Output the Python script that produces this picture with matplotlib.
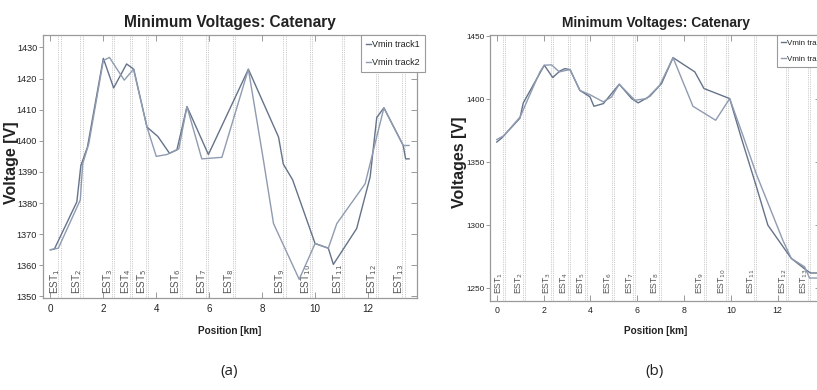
import matplotlib
matplotlib.use("Agg")
import matplotlib.pyplot as plt
import matplotlib.transforms as mtransforms

# ---------------- data ----------------
est_labels = [r"EST$_{%d}$" % i for i in range(1, 14)]

# panel (a)
a_stations_km = [0.3, 1.13, 2.33, 3.0, 3.6, 4.9, 5.88, 6.9, 8.8, 9.8, 11.0, 12.3, 13.3]
a_track1_km = [0.0, 0.15, 1.0, 1.15, 1.4, 2.0, 2.39, 2.88, 3.15, 3.65, 4.06, 4.5, 4.78,
               5.16, 5.97, 7.48, 8.62, 8.8, 9.15, 10.0, 10.5, 10.69, 11.57, 12.08, 12.33,
               12.6, 13.33, 13.42, 13.55]
a_track1_v = [1365, 1365.2, 1380.4, 1392.0, 1398.0, 1426.5, 1417.0, 1424.7, 1423.0,
              1404.4, 1401.4, 1396.0, 1397.1, 1411.0, 1395.6, 1423.0, 1401.2, 1392.5,
              1387.5, 1367.0, 1365.5, 1360.3, 1371.8, 1388.4, 1407.5, 1410.6, 1398.5,
              1394.2, 1394.2]
a_track2_km = [0.0, 0.3, 1.13, 1.22, 1.45, 2.0, 2.23, 2.79, 3.14, 3.65, 4.0, 4.4, 4.85,
               5.16, 5.72, 6.48, 7.48, 8.05, 8.43, 9.4, 10.0, 10.5, 10.82, 11.89, 12.6,
               13.33, 13.55]
a_track2_v = [1365, 1365.5, 1381.0, 1392.6, 1399.0, 1425.8, 1426.8, 1419.5, 1423.0,
              1404.4, 1395.0, 1395.6, 1397.4, 1411.0, 1394.2, 1394.7, 1423.0, 1393.7,
              1373.4, 1355.5, 1367.0, 1365.5, 1373.4, 1386.2, 1410.6, 1398.5, 1398.5]
a_yticks = [1350, 1360, 1370, 1380, 1390, 1400, 1410, 1420, 1430]

# panel (b)
b_stations_km = [0.27, 1.13, 2.3, 3.03, 3.75, 4.93, 5.83, 6.93, 8.85, 9.8, 11.0, 12.37, 13.28]
b_track1_km = [0.0, 0.2, 0.99, 1.13, 2.03, 2.39, 2.7, 2.91, 3.13, 3.55, 3.98, 4.15, 4.55,
               5.23, 5.76, 6.04, 6.54, 7.04, 7.53, 8.46, 8.85, 9.95, 10.45, 11.1, 11.58,
               12.58, 13.22, 13.4, 13.65]
b_track1_v = [1366, 1369, 1385, 1397, 1427, 1417.2, 1422.5, 1424.3, 1423.5, 1407,
              1401.9, 1394.4, 1396.5, 1411.9, 1400.5, 1397.1, 1402.4, 1412.5, 1433,
              1421.7, 1408.5, 1400.5, 1369, 1330, 1300, 1273.6, 1264.3, 1262, 1262]
b_track2_km = [0.0, 0.3, 1.0, 1.35, 1.85, 2.03, 2.34, 2.67, 2.98, 3.13, 3.55, 3.98, 4.55,
               4.9, 5.23, 5.9, 6.4, 6.96, 7.53, 8.38, 9.35, 9.95, 10.5, 11.1, 12.22,
               12.58, 13.15, 13.36, 13.65]
b_track2_v = [1368, 1371, 1386, 1401, 1422, 1427, 1427.3, 1421.7, 1423, 1423.5, 1407,
              1403.6, 1397.9, 1401.8, 1411.9, 1399.2, 1400.5, 1411.1, 1433, 1394.4,
              1383.3, 1400.5, 1372, 1340, 1288, 1273.6, 1266.9, 1258, 1258]
b_yticks = [1250, 1300, 1350, 1400, 1450]

xticks = [0, 2, 4, 6, 8, 10, 12]
series_names = ["Vmin track1", "Vmin track2"]

# ---------------- style ----------------
FONT = "Liberation Sans"
C1 = "#65738a"
C2 = "#8f9bb0"
FRAME = "#9a9a9a"
TXT = "#222222"

fig = plt.figure(figsize=(8.17, 3.90), dpi=100)
W, H = 817, 390


def px_axes(x0, x1, ytop, ybot):
    return fig.add_axes([x0 / W, (H - ybot) / H, (x1 - x0) / W, (ybot - ytop) / H])


def draw_panel(ax, stations, t1x, t1v, t2x, t2v, ylim, yticks, scale,
               ylabel, ylab_x, ylab_y, xlab_y, est_dy, est_fs, leg_anchor):
    ax.set_xlim(-0.29, 13.85)
    ax.set_ylim(*ylim)

    # station markers: pairs of dotted verticals with a rotated tag
    blend = mtransforms.blended_transform_factory(ax.transData, ax.transAxes)
    for s, lab in zip(stations, est_labels):
        for dx in (0.0, 0.09):
            ax.axvline(s + dx, color="#bdbdbd", lw=0.6, ls=(0, (1, 1.2)), zorder=1)
        ax.annotate(lab, xy=(s, 0.0), xycoords=blend, xytext=(-3.5, est_dy),
                    textcoords="offset pixels", rotation=90, ha="center", va="bottom",
                    fontsize=est_fs, color="#555555", family=FONT, zorder=2)

    l1, = ax.plot(t1x, t1v, color=C1, lw=1.0, zorder=3)
    l2, = ax.plot(t2x, t2v, color=C2, lw=1.0, zorder=3)

    ax.set_xticks(xticks)
    ax.set_yticks(yticks)
    tfs = 6.6 * scale
    ax.tick_params(axis="x", direction="in", top=True, length=4, width=0.7,
                   color=FRAME, labelsize=tfs * 1.08, labelcolor=TXT, pad=4)
    ax.tick_params(axis="y", direction="out", right=False, length=3, width=0.7,
                   color=FRAME, labelsize=tfs, labelcolor=TXT, pad=1)
    for lab in ax.get_xticklabels() + ax.get_yticklabels():
        lab.set_family(FONT)
    sec = ax.secondary_yaxis("right")
    sec.set_yticks(yticks)
    sec.tick_params(direction="in", length=4, width=0.7, color=FRAME, labelright=False)
    sec.spines["right"].set_visible(False)

    for sp in ax.spines.values():
        sp.set_color(FRAME)
        sp.set_linewidth(0.9)

    ax.set_title("Minimum Voltages: Catenary", fontsize=11.2 * scale, fontweight="bold",
                 family=FONT, color=TXT, pad=6)
    ax.set_xlabel("Position [km]", fontsize=7.2, fontweight="bold", family=FONT, color=TXT)
    ax.xaxis.set_label_coords(0.5, xlab_y)
    ax.set_ylabel(ylabel, fontsize=11.5, fontweight="bold", family=FONT, color=TXT, va="center")
    ax.yaxis.set_label_coords(ylab_x, ylab_y)

    leg = ax.legend([l1, l2], series_names, loc="upper left", bbox_to_anchor=leg_anchor,
                    borderaxespad=0, handlelength=0.55, handletextpad=0.15,
                    labelspacing=1.0, borderpad=0.55, fancybox=False, framealpha=1,
                    prop={"family": FONT, "size": 6.5 * scale})
    leg.get_frame().set_edgecolor(FRAME)
    leg.get_frame().set_linewidth(0.8)
    for t in leg.get_texts():
        t.set_color(TXT)


ax_a = px_axes(42.7, 417, 35, 298)
draw_panel(ax_a, a_stations_km, a_track1_km, a_track1_v, a_track2_km, a_track2_v,
           (1349.5, 1434), a_yticks, 1.0, "Voltage [V]",
           -31.5 / 374.3, 0.513, -0.105, 4, 7.2, ((361 - 42.7) / 374.3, 1.0))

ax_b = px_axes(490, 821, 35, 300.7)
draw_panel(ax_b, b_stations_km, b_track1_km, b_track1_v, b_track2_km, b_track2_v,
           (1240, 1451), b_yticks, 0.885, "Voltages [V]",
           -31 / 331, 0.522, -0.094, 7, 6.2, ((777 - 490) / 331, 1.0))

fig.text(229 / W, 1 - 372 / H, "(a)", ha="center", va="center", fontsize=11,
         family="Open Sans", color=TXT)
fig.text(655 / W, 1 - 372 / H, "(b)", ha="center", va="center", fontsize=11,
         family="Open Sans", color=TXT)

fig.savefig("out.png", dpi=100, facecolor="white")
